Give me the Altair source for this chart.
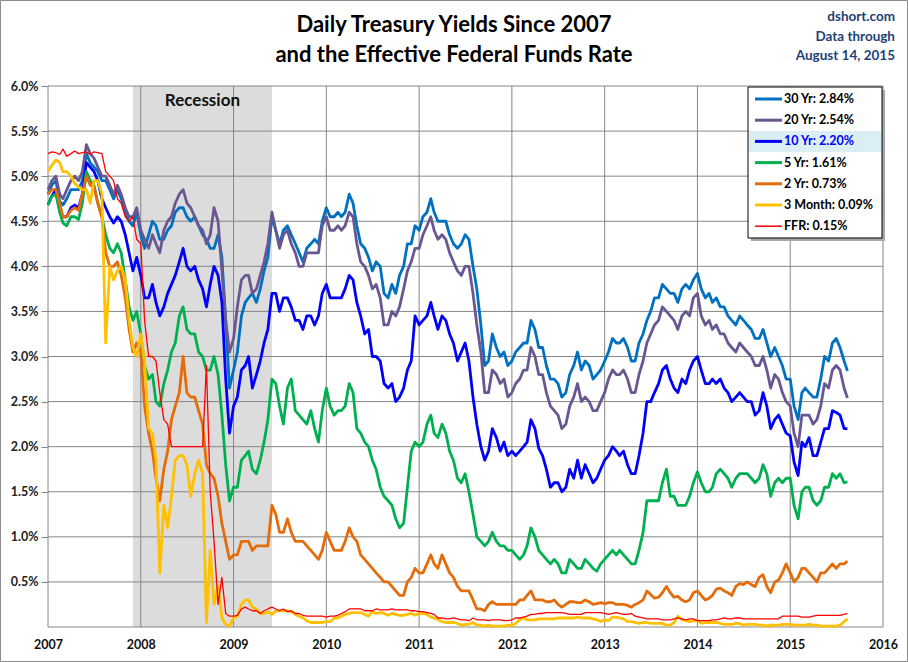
import altair as alt
import pandas as pd

# ---------------- data (semi-monthly readings: 1st and 16th of each month; last = 2015-08-14)
DATES = []
for yr in range(2007, 2016):
    for mo in range(1, 13):
        if yr == 2015 and mo > 8:
            break
        DATES.append(f"{yr}-{mo:02d}-01")
        DATES.append("2015-08-14" if (yr == 2015 and mo == 8) else f"{yr}-{mo:02d}-16")

Y30 = [4.80, 4.90, 4.95, 4.72, 4.68, 4.75, 4.85, 4.85, 4.85, 4.95, 5.25, 5.15, 5.10, 5.05, 4.95, 4.95, 4.85, 4.75, 4.85, 4.75, 4.60, 4.50, 4.45, 4.60,
       4.35, 4.20, 4.35, 4.50, 4.45, 4.30, 4.30, 4.40, 4.45, 4.60, 4.65, 4.65, 4.55, 4.50, 4.55, 4.45, 4.35, 4.30, 4.20, 4.20, 4.35, 4.10, 3.40, 2.65,
       2.85, 3.05, 3.45, 3.60, 3.65, 3.70, 3.60, 3.75, 3.95, 4.10, 4.55, 4.40, 4.25, 4.40, 4.45, 4.35, 4.25, 4.15, 4.05, 4.20, 4.25, 4.30, 4.25, 4.50,
       4.65, 4.55, 4.55, 4.60, 4.55, 4.60, 4.80, 4.70, 4.45, 4.25, 4.20, 4.10, 3.95, 4.05, 4.00, 3.70, 3.65, 3.80, 3.70, 3.90, 4.00, 4.25, 4.25, 4.45,
       4.40, 4.55, 4.60, 4.75, 4.60, 4.50, 4.50, 4.50, 4.35, 4.25, 4.20, 4.25, 4.35, 4.30, 4.00, 3.75, 3.35, 2.90, 2.95, 3.25, 3.10, 3.00, 3.05, 2.90,
       2.95, 3.05, 3.10, 3.15, 3.15, 3.40, 3.30, 3.10, 3.10, 2.90, 2.75, 2.75, 2.70, 2.55, 2.60, 2.80, 2.90, 3.05, 2.85, 2.95, 2.90, 2.75, 2.80, 2.85,
       2.95, 3.05, 3.20, 3.15, 3.15, 3.20, 3.10, 2.95, 2.95, 3.15, 3.25, 3.40, 3.50, 3.65, 3.65, 3.80, 3.75, 3.70, 3.70, 3.60, 3.75, 3.80, 3.75, 3.85,
       3.92, 3.75, 3.65, 3.70, 3.60, 3.65, 3.55, 3.55, 3.45, 3.40, 3.35, 3.45, 3.40, 3.35, 3.30, 3.20, 3.20, 3.30, 3.15, 3.00, 3.10, 3.00, 2.90, 2.75,
       2.75, 2.45, 2.30, 2.60, 2.65, 2.60, 2.55, 2.55, 2.75, 3.00, 2.95, 3.15, 3.20, 3.10, 2.95, 2.84]

Y20 = [4.85, 4.95, 5.00, 4.80, 4.75, 4.85, 4.95, 5.00, 4.95, 5.05, 5.35, 5.25, 5.20, 5.10, 5.00, 5.00, 4.90, 4.80, 4.90, 4.80, 4.65, 4.55, 4.55, 4.65,
       4.40, 4.30, 4.20, 4.35, 4.25, 4.15, 4.40, 4.50, 4.55, 4.70, 4.80, 4.85, 4.70, 4.65, 4.55, 4.45, 4.40, 4.25, 4.35, 4.65, 4.50, 3.95, 3.40, 3.05,
       3.20, 3.55, 3.85, 3.90, 3.90, 3.70, 3.75, 3.90, 4.05, 4.25, 4.60, 4.40, 4.20, 4.35, 4.40, 4.25, 4.15, 4.00, 4.00, 4.15, 4.15, 4.15, 4.15, 4.45,
       4.55, 4.40, 4.40, 4.45, 4.40, 4.45, 4.60, 4.55, 4.25, 4.05, 4.00, 3.90, 3.75, 3.80, 3.65, 3.35, 3.35, 3.50, 3.45, 3.55, 3.75, 3.95, 4.05, 4.20,
       4.20, 4.35, 4.45, 4.55, 4.40, 4.30, 4.35, 4.30, 4.15, 4.05, 3.95, 3.90, 4.00, 4.00, 3.70, 3.35, 3.05, 2.60, 2.60, 2.85, 2.80, 2.70, 2.75, 2.55,
       2.60, 2.70, 2.75, 2.85, 2.85, 3.10, 3.00, 2.80, 2.80, 2.60, 2.45, 2.40, 2.35, 2.20, 2.25, 2.45, 2.55, 2.70, 2.50, 2.55, 2.50, 2.40, 2.40, 2.50,
       2.60, 2.75, 2.85, 2.80, 2.80, 2.85, 2.75, 2.60, 2.60, 2.80, 2.95, 3.15, 3.25, 3.35, 3.40, 3.55, 3.50, 3.45, 3.40, 3.30, 3.45, 3.50, 3.45, 3.65,
       3.70, 3.45, 3.35, 3.40, 3.30, 3.35, 3.25, 3.25, 3.15, 3.10, 3.05, 3.15, 3.10, 3.05, 3.00, 2.90, 2.90, 3.00, 2.85, 2.65, 2.80, 2.75, 2.60, 2.50,
       2.45, 2.15, 2.00, 2.35, 2.35, 2.35, 2.25, 2.30, 2.45, 2.70, 2.65, 2.85, 2.90, 2.85, 2.65, 2.54]

Y10 = [4.68, 4.78, 4.85, 4.62, 4.55, 4.55, 4.65, 4.68, 4.65, 4.80, 5.15, 5.10, 5.05, 4.95, 4.75, 4.65, 4.55, 4.48, 4.55, 4.50, 4.35, 4.15, 3.95, 4.10,
       3.90, 3.65, 3.65, 3.80, 3.60, 3.45, 3.55, 3.70, 3.80, 3.90, 4.05, 4.20, 4.00, 3.95, 4.00, 3.85, 3.75, 3.55, 3.80, 4.00, 3.90, 3.60, 2.75, 2.15,
       2.45, 2.55, 2.85, 2.90, 3.00, 2.65, 2.80, 2.95, 3.15, 3.30, 3.70, 3.70, 3.50, 3.65, 3.65, 3.55, 3.40, 3.40, 3.30, 3.45, 3.45, 3.35, 3.45, 3.70,
       3.80, 3.65, 3.65, 3.65, 3.65, 3.75, 3.90, 3.85, 3.60, 3.45, 3.25, 3.30, 3.00, 3.00, 2.95, 2.70, 2.65, 2.70, 2.50, 2.55, 2.65, 2.85, 2.95, 3.45,
       3.35, 3.40, 3.45, 3.60, 3.45, 3.30, 3.45, 3.40, 3.25, 3.15, 2.95, 3.05, 3.15, 2.95, 2.55, 2.25, 2.00, 1.85, 1.95, 2.20, 2.10, 1.95, 2.05, 1.90,
       1.95, 1.90, 1.95, 2.00, 2.05, 2.30, 2.20, 1.98, 1.90, 1.75, 1.55, 1.60, 1.60, 1.50, 1.55, 1.75, 1.65, 1.85, 1.65, 1.80, 1.70, 1.60, 1.65, 1.75,
       1.85, 1.90, 2.00, 1.95, 1.90, 1.95, 1.80, 1.70, 1.70, 1.90, 2.15, 2.50, 2.50, 2.60, 2.70, 2.85, 2.90, 2.75, 2.65, 2.60, 2.75, 2.70, 2.85, 2.95,
       3.00, 2.85, 2.70, 2.70, 2.75, 2.70, 2.75, 2.65, 2.60, 2.50, 2.55, 2.60, 2.55, 2.50, 2.50, 2.35, 2.40, 2.60, 2.45, 2.20, 2.30, 2.35, 2.25, 2.15,
       2.12, 1.83, 1.68, 2.05, 2.00, 2.10, 1.90, 1.90, 2.05, 2.20, 2.20, 2.40, 2.38, 2.35, 2.20, 2.20]

Y5 = [4.68, 4.78, 4.80, 4.60, 4.48, 4.45, 4.55, 4.55, 4.52, 4.70, 5.05, 4.95, 4.90, 4.70, 4.55, 4.35, 4.20, 4.15, 4.25, 4.15, 3.85, 3.55, 3.40, 3.50,
      3.25, 2.90, 2.75, 2.80, 2.50, 2.45, 2.70, 2.85, 3.05, 3.15, 3.45, 3.55, 3.30, 3.25, 3.25, 3.05, 3.00, 2.85, 2.85, 3.00, 2.80, 2.35, 1.80, 1.40,
      1.55, 1.55, 1.85, 1.90, 1.95, 1.75, 1.70, 1.85, 2.05, 2.30, 2.75, 2.70, 2.45, 2.25, 2.65, 2.75, 2.40, 2.35, 2.30, 2.25, 2.40, 2.20, 2.05, 2.40,
      2.65, 2.45, 2.35, 2.40, 2.40, 2.45, 2.70, 2.60, 2.20, 2.15, 2.05, 2.00, 1.85, 1.75, 1.55, 1.45, 1.40, 1.35, 1.20, 1.10, 1.15, 1.55, 1.95, 2.05,
      2.00, 2.05, 2.25, 2.35, 2.15, 2.10, 2.25, 2.15, 1.95, 1.85, 1.65, 1.60, 1.70, 1.50, 1.25, 1.00, 0.95, 0.90, 0.95, 1.05, 0.95, 0.90, 0.90, 0.85,
      0.85, 0.80, 0.75, 0.80, 0.90, 1.10, 1.00, 0.85, 0.80, 0.75, 0.70, 0.75, 0.70, 0.60, 0.60, 0.75, 0.70, 0.65, 0.65, 0.75, 0.70, 0.65, 0.62, 0.70,
      0.75, 0.80, 0.85, 0.80, 0.85, 0.80, 0.75, 0.70, 0.70, 0.85, 1.05, 1.40, 1.40, 1.40, 1.40, 1.60, 1.75, 1.45, 1.45, 1.35, 1.35, 1.35, 1.45, 1.60,
      1.72, 1.60, 1.50, 1.50, 1.55, 1.70, 1.75, 1.70, 1.65, 1.55, 1.65, 1.70, 1.70, 1.70, 1.65, 1.60, 1.65, 1.80, 1.70, 1.45, 1.60, 1.65, 1.60, 1.65,
      1.65, 1.35, 1.20, 1.50, 1.55, 1.55, 1.40, 1.35, 1.40, 1.55, 1.55, 1.70, 1.65, 1.70, 1.60, 1.61]

Y2 = [4.80, 4.85, 4.85, 4.70, 4.55, 4.55, 4.62, 4.65, 4.62, 4.80, 5.00, 4.90, 4.88, 4.70, 4.55, 4.15, 4.00, 4.00, 4.05, 3.90, 3.65, 3.30, 3.05, 3.15,
      3.05, 2.45, 2.15, 1.95, 1.65, 1.40, 1.75, 1.95, 2.30, 2.45, 2.60, 3.00, 2.60, 2.55, 2.55, 2.40, 2.25, 1.80, 1.70, 1.65, 1.45, 1.15, 0.95, 0.75,
      0.80, 0.80, 0.95, 0.95, 0.95, 0.85, 0.90, 0.90, 0.90, 0.90, 1.35, 1.25, 1.05, 1.05, 1.20, 1.05, 0.95, 0.95, 0.95, 0.90, 0.85, 0.80, 0.75, 0.85,
      1.05, 0.95, 0.85, 0.85, 0.85, 0.95, 1.10, 1.00, 0.95, 0.80, 0.75, 0.70, 0.65, 0.60, 0.55, 0.50, 0.50, 0.45, 0.40, 0.35, 0.35, 0.50, 0.55, 0.65,
      0.60, 0.60, 0.70, 0.80, 0.70, 0.65, 0.80, 0.70, 0.60, 0.55, 0.45, 0.40, 0.40, 0.40, 0.30, 0.20, 0.20, 0.18, 0.25, 0.28, 0.25, 0.25, 0.25, 0.25,
      0.25, 0.25, 0.30, 0.30, 0.35, 0.40, 0.30, 0.30, 0.30, 0.28, 0.28, 0.30, 0.25, 0.22, 0.25, 0.28, 0.28, 0.27, 0.27, 0.30, 0.28, 0.25, 0.26, 0.27,
      0.26, 0.27, 0.27, 0.25, 0.25, 0.25, 0.24, 0.22, 0.25, 0.27, 0.30, 0.40, 0.36, 0.32, 0.33, 0.38, 0.45, 0.38, 0.33, 0.34, 0.30, 0.28, 0.30, 0.38,
      0.40, 0.35, 0.30, 0.32, 0.35, 0.42, 0.43, 0.40, 0.38, 0.35, 0.45, 0.48, 0.47, 0.50, 0.47, 0.45, 0.55, 0.58, 0.45, 0.38, 0.50, 0.52, 0.60, 0.70,
      0.60, 0.50, 0.55, 0.65, 0.65, 0.60, 0.55, 0.50, 0.60, 0.60, 0.65, 0.70, 0.65, 0.70, 0.70, 0.73]

M3 = [5.05, 5.12, 5.18, 5.15, 5.05, 5.05, 5.00, 4.92, 4.88, 4.85, 4.85, 4.70, 4.95, 4.95, 4.80, 3.15, 4.00, 3.85, 3.95, 4.00, 3.85, 3.40, 3.10, 3.00,
      3.25, 2.95, 2.20, 2.15, 1.85, 0.60, 1.35, 1.10, 1.45, 1.85, 1.90, 1.90, 1.80, 1.45, 1.70, 1.85, 1.70, 0.05, 0.85, 0.25, 0.45, 0.10, 0.03, 0.01,
      0.10, 0.12, 0.25, 0.30, 0.30, 0.22, 0.20, 0.15, 0.15, 0.17, 0.14, 0.18, 0.18, 0.18, 0.18, 0.17, 0.14, 0.12, 0.10, 0.07, 0.05, 0.05, 0.05, 0.05,
      0.06, 0.06, 0.10, 0.10, 0.12, 0.14, 0.15, 0.16, 0.16, 0.16, 0.14, 0.12, 0.17, 0.15, 0.16, 0.15, 0.13, 0.15, 0.14, 0.13, 0.13, 0.14, 0.15, 0.13,
      0.15, 0.15, 0.14, 0.11, 0.10, 0.08, 0.06, 0.05, 0.05, 0.05, 0.04, 0.02, 0.03, 0.03, 0.05, 0.02, 0.02, 0.01, 0.02, 0.01, 0.01, 0.01, 0.01, 0.02,
      0.02, 0.04, 0.08, 0.10, 0.08, 0.08, 0.08, 0.09, 0.09, 0.09, 0.09, 0.09, 0.10, 0.10, 0.10, 0.10, 0.10, 0.11, 0.10, 0.10, 0.10, 0.09, 0.08, 0.06,
      0.08, 0.07, 0.11, 0.11, 0.10, 0.09, 0.06, 0.06, 0.05, 0.04, 0.05, 0.05, 0.04, 0.04, 0.04, 0.04, 0.02, 0.02, 0.05, 0.12, 0.08, 0.07, 0.06, 0.07,
      0.07, 0.04, 0.05, 0.05, 0.05, 0.05, 0.04, 0.03, 0.03, 0.03, 0.04, 0.04, 0.02, 0.03, 0.03, 0.03, 0.02, 0.02, 0.01, 0.02, 0.02, 0.02, 0.03, 0.03,
      0.03, 0.02, 0.02, 0.02, 0.02, 0.03, 0.02, 0.02, 0.01, 0.01, 0.01, 0.01, 0.01, 0.02, 0.06, 0.09]

FFR = [5.25, 5.27, 5.26, 5.24, 5.30, 5.22, 5.25, 5.28, 5.25, 5.26, 5.27, 5.24, 5.27, 5.26, 5.25, 5.05, 5.00, 4.95, 4.75, 4.70, 4.55, 4.50, 4.55, 4.30,
       4.25, 3.40, 3.00, 3.00, 2.95, 2.60, 2.30, 2.25, 2.00, 2.00, 2.00, 2.00, 2.00, 2.00, 2.00, 2.00, 2.00, 2.90, 1.50, 0.95, 0.25, 0.55, 0.15, 0.12,
       0.12, 0.13, 0.20, 0.22, 0.20, 0.18, 0.18, 0.15, 0.18, 0.20, 0.22, 0.20, 0.18, 0.20, 0.17, 0.18, 0.15, 0.15, 0.13, 0.12, 0.12, 0.12, 0.12, 0.12,
       0.11, 0.12, 0.12, 0.13, 0.15, 0.17, 0.20, 0.20, 0.20, 0.20, 0.18, 0.18, 0.18, 0.20, 0.19, 0.19, 0.19, 0.20, 0.19, 0.19, 0.19, 0.19, 0.18, 0.18,
       0.17, 0.17, 0.16, 0.15, 0.14, 0.10, 0.10, 0.09, 0.09, 0.10, 0.09, 0.08, 0.08, 0.07, 0.10, 0.08, 0.08, 0.08, 0.07, 0.08, 0.08, 0.08, 0.07, 0.07,
       0.08, 0.10, 0.10, 0.11, 0.12, 0.14, 0.14, 0.15, 0.15, 0.16, 0.16, 0.16, 0.16, 0.16, 0.15, 0.14, 0.14, 0.14, 0.14, 0.16, 0.16, 0.16, 0.16, 0.16,
       0.15, 0.14, 0.15, 0.16, 0.15, 0.14, 0.14, 0.15, 0.12, 0.11, 0.10, 0.09, 0.09, 0.09, 0.09, 0.08, 0.08, 0.08, 0.09, 0.10, 0.09, 0.08, 0.09, 0.09,
       0.07, 0.07, 0.07, 0.07, 0.08, 0.08, 0.09, 0.10, 0.09, 0.09, 0.10, 0.10, 0.09, 0.09, 0.09, 0.09, 0.09, 0.09, 0.09, 0.09, 0.09, 0.09, 0.12, 0.12,
       0.12, 0.12, 0.12, 0.11, 0.11, 0.11, 0.12, 0.13, 0.13, 0.13, 0.13, 0.13, 0.13, 0.13, 0.14, 0.15]

SERIES = ["30 Yr", "20 Yr", "10 Yr", "5 Yr", "2 Yr", "3 Month", "FFR"]
VALUES = [Y30, Y20, Y10, Y5, Y2, M3, FFR]
COLORS = ["#0070C0", "#695791", "#0000FF", "#00B050", "#E46C0A", "#FFC000", "#FF0000"]
WIDTHS = [2.8, 2.8, 2.8, 2.8, 2.8, 2.8, 1.3]

RECESSION = ("2007-12-01", "2009-06-01")
YEAR_TICKS = list(range(2007, 2017))
PCT_TICKS = [i * 0.5 for i in range(0, 13)]

for v in VALUES:
    assert len(v) == len(DATES), (len(v), len(DATES))


def dec_year(s):
    d = pd.to_datetime(pd.Series(s))
    days = 365 + d.dt.is_leap_year.astype(int)
    return (d.dt.year + (d.dt.dayofyear - 1) / days).tolist()


T = dec_year(DATES)
rec = dec_year(list(RECESSION))

X_SCALE = alt.Scale(domain=[2007, 2016], nice=False, zero=False)
Y_SCALE = alt.Scale(domain=[0, 6], nice=False, zero=False)
GRID = "#868686"
FONT = "Lato"

X_AXIS = alt.Axis(values=YEAR_TICKS, format="d", grid=False, domain=False, ticks=False,
                  labelPadding=11, labelFontSize=12.5, labelFontWeight="bold",
                  labelColor="#111111", labelFont=FONT, labelFlush=False, labelOverlap=False)
Y_AXIS = alt.Axis(values=PCT_TICKS[1:], grid=False, domain=False, ticks=True, tickSize=7,
                  tickColor=GRID, labelPadding=3,
                  labelExpr="format(datum.value, '.1f') + '%'",
                  labelFontSize=12.5, labelFontWeight="bold", labelColor="#222222",
                  labelFont=FONT, labelFlush=False, labelOverlap=False)

W, H = 835, 541
PAD_L, PAD_T = 48, 86

# recession band
band = alt.Chart(pd.DataFrame({"x0": [rec[0]], "x1": [rec[1]], "lo": [0.0], "hi": [6.0]})).mark_rect(
    color="#DCDCDC"
).encode(
    x=alt.X("x0:Q", scale=X_SCALE, title=None, axis=X_AXIS),
    x2="x1:Q",
    y=alt.Y("lo:Q", scale=Y_SCALE, title=None, axis=Y_AXIS),
    y2="hi:Q",
)

vgrid = alt.Chart(pd.DataFrame({"yr": YEAR_TICKS})).mark_rule(color=GRID, strokeWidth=1).encode(
    x=alt.X("yr:Q", scale=X_SCALE, title=None, axis=X_AXIS)
)
hgrid = alt.Chart(pd.DataFrame({"p": PCT_TICKS})).mark_rule(color=GRID, strokeWidth=1).encode(
    y=alt.Y("p:Q", scale=Y_SCALE, title=None, axis=Y_AXIS)
)

lines = []
for name, vals, col, w in zip(SERIES, VALUES, COLORS, WIDTHS):
    df = pd.DataFrame({"t": T, "v": vals})
    lines.append(
        alt.Chart(df).mark_line(color=col, strokeWidth=w, strokeJoin="round").encode(
            x=alt.X("t:Q", scale=X_SCALE, title=None, axis=X_AXIS),
            y=alt.Y("v:Q", scale=Y_SCALE, title=None, axis=Y_AXIS),
        )
    )

rec_label = alt.Chart(pd.DataFrame({"x": [(rec[0] + rec[1]) / 2], "label": ["Recession"]})).mark_text(
    font=FONT, fontSize=17, fontWeight="bold", color="#111111", baseline="middle"
).encode(x=alt.X("x:Q", scale=X_SCALE, title=None, axis=X_AXIS), y=alt.value(101 - PAD_T), text="label:N")

one = pd.DataFrame({"a": [0]})


def txt(s, x, y, size, color, align="center", weight="bold"):
    return alt.Chart(one).mark_text(
        font=FONT, fontSize=size, fontWeight=weight, color=color, align=align, baseline="middle"
    ).encode(x=alt.value(x - PAD_L), y=alt.value(y - PAD_T), text=alt.value(s))


def box(x0, y0, x1, y1, fill, stroke=None, sw=1):
    kw = {"fill": fill}
    if stroke:
        kw.update(stroke=stroke, strokeWidth=sw)
    return alt.Chart(one).mark_rect(**kw).encode(
        x=alt.value(x0 - PAD_L), x2=alt.value(x1 - PAD_L),
        y=alt.value(y0 - PAD_T), y2=alt.value(y1 - PAD_T))


deco = [
    txt("Daily Treasury Yields Since 2007", 454, 25, 22, "#000000"),
    txt("and the Effective Federal Funds Rate", 454, 55, 22, "#000000"),
    txt("dshort.com", 895, 17, 13.5, "#1F3F77", align="right"),
    txt("Data through", 895, 37, 13.5, "#1F3F77", align="right"),
    txt("August 14, 2015", 895, 56, 13.5, "#1F3F77", align="right"),
]

# legend
legend = [
    box(751, 90, 885, 241, "#A6A6A6"),
    box(748, 87, 882, 238, "#FFFFFF", stroke="#000000", sw=1),
    box(749, 131, 881, 152, "#DAEEF3"),
]
ROW0, STEP = 99, 21.2
for i, (name, vals, col, w) in enumerate(zip(SERIES, VALUES, COLORS, WIDTHS)):
    yy = ROW0 + i * STEP
    legend.append(
        alt.Chart(one).mark_rule(color=col, strokeWidth=w + 0.2).encode(
            x=alt.value(755 - PAD_L), x2=alt.value(782 - PAD_L), y=alt.value(yy - PAD_T))
    )
    tcol = "#0000FF" if name == "10 Yr" else "#000000"
    legend.append(txt(f"{name}: {vals[-1]:.2f}%", 784, yy, 12.5, tcol, align="left"))

frame = alt.Chart(one).mark_rect(fill=None, stroke="#8C8C8C", strokeWidth=1).encode(
    x=alt.value(0.5 - PAD_L), x2=alt.value(907.5 - PAD_L),
    y=alt.value(0.5 - PAD_T), y2=alt.value(661.5 - PAD_T))

chart = alt.layer(band, vgrid, hgrid, *lines, rec_label, *deco, *legend, frame).properties(
    width=W, height=H,
    autosize=alt.AutoSizeParams(type="none"),
    padding={"left": PAD_L, "top": PAD_T, "right": 908 - PAD_L - W, "bottom": 662 - PAD_T - H},
    background="#FFFFFF",
).configure_view(stroke=None)

chart.save("out.html", embed_options={"renderer": "svg", "actions": False})
